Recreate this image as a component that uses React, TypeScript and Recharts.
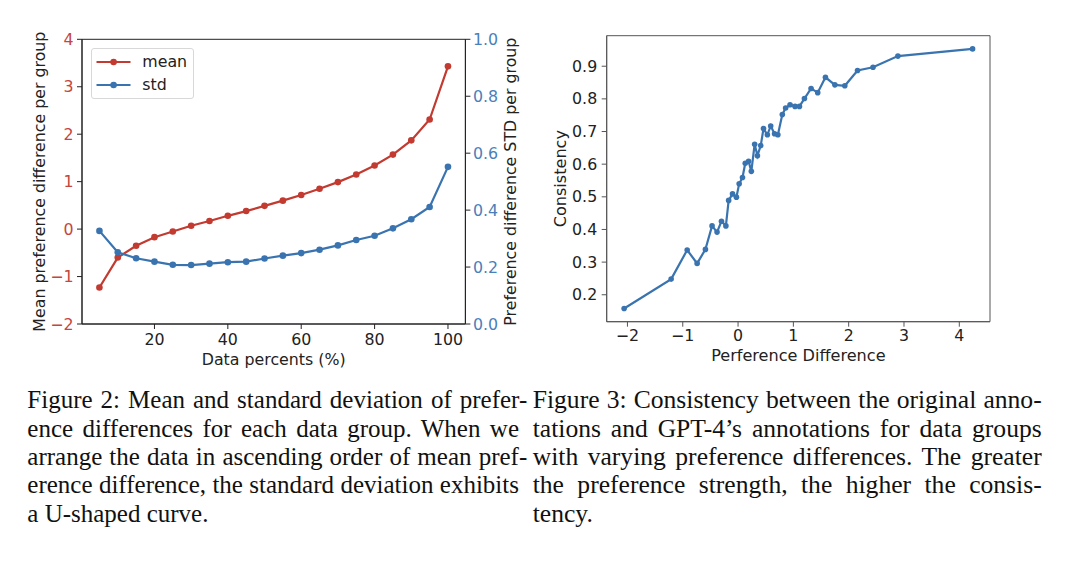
import React from 'react';
import { LineChart, Line, XAxis, YAxis, ReferenceArea, Legend } from 'recharts';

const FONT = '"DejaVu Sans", Verdana, sans-serif';
const SERIF = '"Liberation Serif", "Times New Roman", serif';
const RED = '#c23a30';
const BLUE = '#3a74b0';
const RED_TXT = '#c4463d';
const BLUE_TXT = '#4a80ba';
const FS = 15.8;

// ---- Figure 2 data ----
const dataPercents = [5, 10, 15, 20, 25, 30, 35, 40, 45, 50, 55, 60, 65, 70, 75, 80, 85, 90, 95, 100];
const meanDiff = [-1.23, -0.6, -0.35, -0.17, -0.05, 0.07, 0.17, 0.28, 0.38, 0.49, 0.6, 0.72, 0.85, 0.99, 1.15, 1.34, 1.57, 1.87, 2.31, 3.43];
const stdDiff = [0.327, 0.252, 0.231, 0.219, 0.208, 0.207, 0.212, 0.217, 0.219, 0.23, 0.24, 0.249, 0.261, 0.276, 0.295, 0.31, 0.336, 0.368, 0.411, 0.552];
const pctTicks = [20, 40, 60, 80, 100];
const meanTicks = [-2, -1, 0, 1, 2, 3, 4];
const stdTicks = [0, 0.2, 0.4, 0.6, 0.8, 1.0];

// ---- Figure 3 data ----
const prefDiff = [-2.06, -1.21, -0.92, -0.74, -0.59, -0.47, -0.38, -0.3, -0.22, -0.17, -0.1, -0.03, 0.02, 0.08, 0.13, 0.19, 0.24, 0.3, 0.35, 0.41, 0.46, 0.53, 0.59, 0.66, 0.72, 0.8, 0.86, 0.94, 1.03, 1.11, 1.2, 1.32, 1.44, 1.58, 1.75, 1.93, 2.16, 2.44, 2.89, 4.24];
const consistency = [0.158, 0.248, 0.337, 0.296, 0.339, 0.411, 0.392, 0.425, 0.411, 0.489, 0.509, 0.499, 0.54, 0.559, 0.603, 0.609, 0.578, 0.661, 0.626, 0.657, 0.709, 0.69, 0.717, 0.693, 0.69, 0.752, 0.772, 0.782, 0.777, 0.777, 0.801, 0.832, 0.819, 0.866, 0.843, 0.84, 0.887, 0.897, 0.931, 0.953];
const diffTicks = [-2, -1, 0, 1, 2, 3, 4];
const consTicks = [0.2, 0.3, 0.4, 0.5, 0.6, 0.7, 0.8, 0.9];

// ---- Captions ----
const captionLeft = [
  'Figure 2: Mean and standard deviation of prefer-',
  'ence differences for each data group.  When we',
  'arrange the data in ascending order of mean pref-',
  'erence difference, the standard deviation exhibits',
  'a U-shaped curve.',
];
const captionRight = [
  'Figure 3: Consistency between the original anno-',
  'tations and GPT-4\u2019s annotations for data groups',
  'with varying preference differences. The greater',
  'the preference strength, the higher the consis-',
  'tency.',
];

const groupData = dataPercents.map((p, i) => ({ pct: p, mean: meanDiff[i], std: stdDiff[i] }));
const consData = prefDiff.map((d, i) => ({ diff: d, cons: consistency[i] }));

const minus = (v: number) => (v < 0 ? '\u2212' + Math.abs(v) : String(v));

const tickStyle = (fill: string) => ({ fontSize: FS, fill, fontFamily: FONT });

function LegendBox(props: any) {
  const payload = props.payload || [];
  return (
    <div
      style={{
        width: 103,
        height: 51,
        boxSizing: 'border-box',
        border: '1px solid #d8d8d8',
        borderRadius: 3,
        background: 'rgba(255,255,255,0.8)',
        position: 'relative',
        fontFamily: FONT,
        fontSize: FS,
        color: '#222',
      }}
    >
      {payload.map((entry: any, i: number) => (
        <div key={i} style={{ position: 'absolute', left: 0, top: 13.3 + i * 23.3 - 10, height: 20, width: 103 }}>
          <svg width={44} height={20} style={{ position: 'absolute', left: 0, top: 0 }}>
            <line x1={4.5} x2={38.5} y1={10} y2={10} stroke={entry.color} strokeWidth={2.2} />
            <circle cx={21.6} cy={10} r={3.3} fill={entry.color} />
          </svg>
          <span style={{ position: 'absolute', left: 50.6, top: 0, lineHeight: '20px', whiteSpace: 'nowrap' }}>{entry.value}</span>
        </div>
      ))}
    </div>
  );
}

function Caption({ lines, left, width, fontSize, protrude }: { lines: string[]; left: number; width: number; fontSize: number; protrude: boolean }) {
  return (
    <div
      style={{
        position: 'absolute',
        left,
        top: 386.4,
        width,
        fontFamily: SERIF,
        fontSize,
        lineHeight: '28.3px',
        color: '#111',
      }}
    >
      {lines.map((ln, i) => {
        const last = i === lines.length - 1;
        const hy = ln.endsWith('-');
        const body = hy ? ln.slice(0, -1) : ln;
        return (
          <div
            key={i}
            style={{ textAlign: last ? 'left' : 'justify', textAlignLast: last ? 'left' : 'justify', whiteSpace: 'nowrap' as any }}
          >
            {body}
            {hy ? <span style={{ marginRight: protrude ? '-0.33em' : 0 }}>-</span> : null}
          </div>
        );
      })}
    </div>
  );
}

export default function App() {
  return (
    <div style={{ position: 'absolute', left: 0, top: 0, width: 1080, height: 564, background: '#fff', overflow: 'hidden' }}>
      <div style={{ position: 'absolute', left: 0, top: 0 }}>
        <LineChart width={540} height={380} data={groupData} margin={{ top: 39.3, right: 0, bottom: 0, left: 0 }}>
          <XAxis
            dataKey="pct"
            type="number"
            domain={[0.25, 104.75]}
            allowDataOverflow
            ticks={pctTicks}
            height={56}
            tickSize={5}
            tickMargin={4.3}
            tick={tickStyle('#222')}
            tickLine={{ stroke: '#222' }}
            axisLine={{ stroke: '#222' }}
            label={{ value: 'Data percents (%)', position: 'insideTop', offset: 29.4, style: { fontSize: FS, fill: '#222', fontFamily: FONT } }}
          />
          <YAxis
            yAxisId="left"
            domain={[-2, 4]}
            allowDataOverflow
            ticks={meanTicks}
            width={82}
            tickSize={5}
            tickMargin={3.5}
            tickFormatter={minus}
            tick={tickStyle(RED_TXT)}
            tickLine={{ stroke: '#222' }}
            axisLine={{ stroke: '#222' }}
            label={{
              value: 'Mean preference difference per group',
              angle: -90,
              position: 'insideLeft',
              offset: 39,
              style: { fontSize: FS, fill: '#222', fontFamily: FONT, textAnchor: 'middle' },
            }}
          />
          <YAxis
            yAxisId="right"
            orientation="right"
            domain={[0, 1]}
            allowDataOverflow
            ticks={stdTicks}
            width={74.6}
            tickSize={5}
            tickMargin={2.5}
            tickFormatter={(v: number) => v.toFixed(1)}
            tick={tickStyle(BLUE_TXT)}
            tickLine={{ stroke: '#222' }}
            axisLine={{ stroke: '#222' }}
            label={{
              value: 'Preference difference STD per group',
              angle: -90,
              position: 'insideRight',
              offset: 30,
              style: { fontSize: FS, fill: '#222', fontFamily: FONT, textAnchor: 'middle' },
            }}
          />
          <ReferenceArea yAxisId="left" x1={0.25} x2={104.75} y1={-2} y2={4} fill="none" stroke="#222" strokeWidth={1} />
          <Line
            yAxisId="left"
            dataKey="mean"
            name="mean"
            type="linear"
            stroke={RED}
            strokeWidth={2.2}
            dot={{ r: 3.3, fill: RED, stroke: RED, strokeWidth: 0 }}
            activeDot={false}
            isAnimationActive={false}
          />
          <Line
            yAxisId="right"
            dataKey="std"
            name="std"
            type="linear"
            stroke={BLUE}
            strokeWidth={2.2}
            dot={{ r: 3.3, fill: BLUE, stroke: BLUE, strokeWidth: 0 }}
            activeDot={false}
            isAnimationActive={false}
          />
          <Legend
            layout="horizontal"
            verticalAlign="middle"
            align="center"
            width={103}
            height={51}
            content={<LegendBox />}
            wrapperStyle={{ left: 90.7, top: 47.7, width: 103, height: 51 }}
          />
        </LineChart>
      </div>

      <div style={{ position: 'absolute', left: 540, top: 0 }}>
        <LineChart width={460} height={380} data={consData} margin={{ top: 35.7, right: 10, bottom: 0, left: 0 }}>
          <XAxis
            dataKey="diff"
            type="number"
            domain={[-2.375, 4.555]}
            allowDataOverflow
            ticks={diffTicks}
            height={58.3}
            tickSize={5}
            tickMargin={3}
            tickFormatter={minus}
            tick={tickStyle('#222')}
            tickLine={{ stroke: '#555' }}
            axisLine={{ stroke: '#555' }}
            label={{ value: 'Perference Difference', position: 'insideTop', offset: 27.6, style: { fontSize: 16.1, fill: '#222', fontFamily: FONT } }}
          />
          <YAxis
            domain={[0.1175, 0.9935]}
            allowDataOverflow
            ticks={consTicks}
            width={66.7}
            tickSize={5}
            tickMargin={4.5}
            tickFormatter={(v: number) => v.toFixed(1)}
            tick={tickStyle('#222')}
            tickLine={{ stroke: '#555' }}
            axisLine={{ stroke: '#555' }}
            label={{
              value: 'Consistency',
              angle: -90,
              position: 'insideLeft',
              offset: 20.7,
              style: { fontSize: 16.1, fill: '#222', fontFamily: FONT, textAnchor: 'middle' },
            }}
          />
          <ReferenceArea x1={-2.375} x2={4.555} y1={0.1175} y2={0.9935} fill="none" stroke="#555" strokeWidth={1} />
          <Line
            dataKey="cons"
            type="linear"
            stroke={BLUE}
            strokeWidth={2.2}
            dot={{ r: 2.8, fill: BLUE, stroke: BLUE, strokeWidth: 0 }}
            activeDot={false}
            isAnimationActive={false}
          />
        </LineChart>
      </div>

      <Caption lines={captionLeft} left={27.3} width={491.7} fontSize={25} protrude={true} />
      <Caption lines={captionRight} left={532.7} width={509} fontSize={25.6} protrude={false} />
    </div>
  );
}
